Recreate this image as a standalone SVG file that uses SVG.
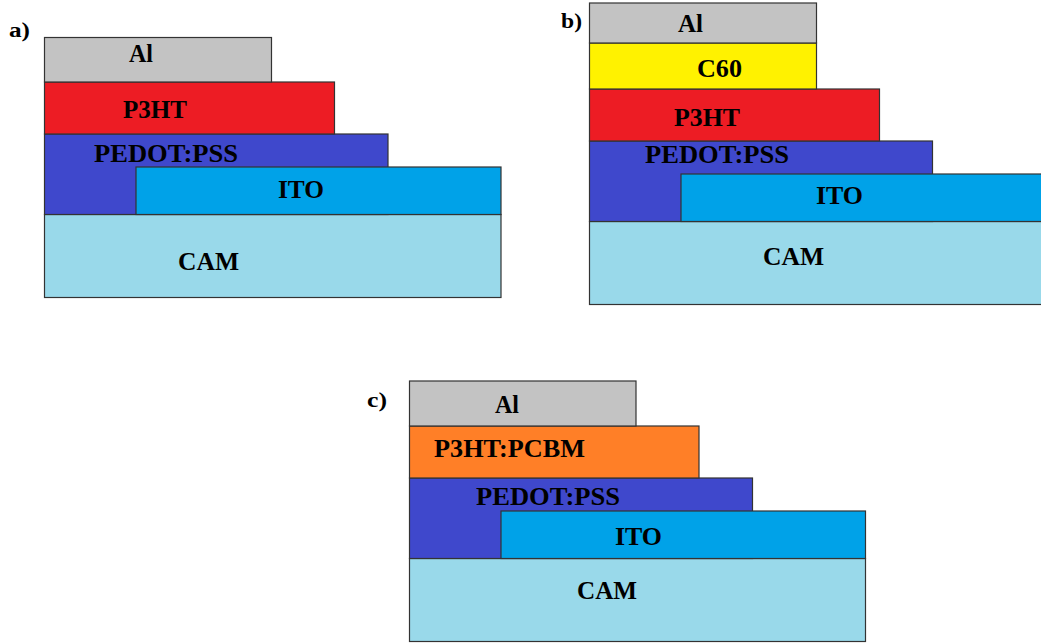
<svg xmlns="http://www.w3.org/2000/svg" width="1041" height="643" viewBox="0 0 1041 643">
<style>
rect{stroke:#333;stroke-width:1.2}
.al{fill:#c3c3c3}.p3{fill:#ed1c24}.pe{fill:#3f48cc}.ito{fill:#00a2e8}.cam{fill:#99d9ea}.c60{fill:#fff200}.pc{fill:#ff7f27}
text{font-family:'Liberation Serif','DejaVu Serif',serif;font-weight:700;font-size:25px;fill:#000}
.lab{font-size:20px}
</style>
<rect width="1041" height="643" fill="#fff" style="stroke:none"/>
<g id="panel-a">
  <text class="lab" x="9" y="37" textLength="21" lengthAdjust="spacingAndGlyphs">a)</text>
  <g id="a-cam"><rect class="cam" x="44.5" y="214.5" width="456.5" height="83"/><text x="178" y="270" textLength="61" lengthAdjust="spacingAndGlyphs">CAM</text></g>
  <g id="a-pedot"><rect class="pe" x="44.5" y="134" width="343.5" height="80.5"/><text x="94" y="162" textLength="144" lengthAdjust="spacingAndGlyphs">PEDOT:PSS</text></g>
  <g id="a-ito"><rect class="ito" x="136" y="167" width="365" height="47.5"/><text x="278" y="198" textLength="46" lengthAdjust="spacingAndGlyphs">ITO</text></g>
  <g id="a-p3ht"><rect class="p3" x="44.5" y="82" width="290" height="52"/><text x="123" y="118" textLength="64" lengthAdjust="spacingAndGlyphs">P3HT</text></g>
  <g id="a-al"><rect class="al" x="44.5" y="37.5" width="227" height="44.5"/><text x="129" y="62" textLength="24" lengthAdjust="spacingAndGlyphs">Al</text></g>
</g>
<g id="panel-b">
  <text class="lab" x="561" y="28" textLength="21" lengthAdjust="spacingAndGlyphs">b)</text>
  <g id="b-cam"><rect class="cam" x="589.5" y="221.5" width="460" height="83"/><text x="763" y="265" textLength="61" lengthAdjust="spacingAndGlyphs">CAM</text></g>
  <g id="b-pedot"><rect class="pe" x="589.5" y="141" width="343" height="80.5"/><text x="645" y="163" textLength="144" lengthAdjust="spacingAndGlyphs">PEDOT:PSS</text></g>
  <g id="b-ito"><rect class="ito" x="681" y="174" width="368" height="47.5"/><text x="816" y="204" textLength="47" lengthAdjust="spacingAndGlyphs">ITO</text></g>
  <g id="b-p3ht"><rect class="p3" x="589.5" y="89" width="290" height="52"/><text x="674" y="126" textLength="66" lengthAdjust="spacingAndGlyphs">P3HT</text></g>
  <g id="b-c60"><rect class="c60" x="589.5" y="43" width="227" height="46"/><text x="697" y="77" textLength="45" lengthAdjust="spacingAndGlyphs">C60</text></g>
  <g id="b-al"><rect class="al" x="589.5" y="3" width="227" height="40"/><text x="678" y="32" textLength="25" lengthAdjust="spacingAndGlyphs">Al</text></g>
</g>
<g id="panel-c">
  <text class="lab" x="367" y="407" textLength="20" lengthAdjust="spacingAndGlyphs">c)</text>
  <g id="c-cam"><rect class="cam" x="409.5" y="558.5" width="456" height="83"/><text x="577" y="599" textLength="60" lengthAdjust="spacingAndGlyphs">CAM</text></g>
  <g id="c-pedot"><rect class="pe" x="409.5" y="478" width="343" height="80.5"/><text x="476" y="505" textLength="144" lengthAdjust="spacingAndGlyphs">PEDOT:PSS</text></g>
  <g id="c-ito"><rect class="ito" x="501" y="511" width="364.5" height="47.5"/><text x="615" y="545" textLength="47" lengthAdjust="spacingAndGlyphs">ITO</text></g>
  <g id="c-pcbm"><rect class="pc" x="409.5" y="426" width="289.5" height="52"/><text x="434" y="457" textLength="151" lengthAdjust="spacingAndGlyphs">P3HT:PCBM</text></g>
  <g id="c-al"><rect class="al" x="409.5" y="381" width="226.5" height="45"/><text x="495" y="413" textLength="24" lengthAdjust="spacingAndGlyphs">Al</text></g>
</g>
</svg>
